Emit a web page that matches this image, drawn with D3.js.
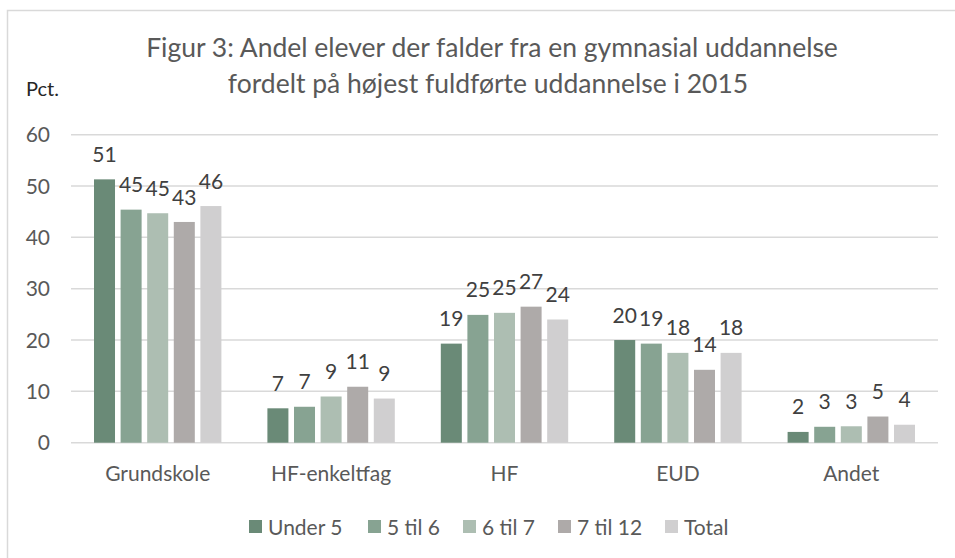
<!DOCTYPE html>
<html>
<head>
<meta charset="utf-8">
<script src="https://cdn.jsdelivr.net/npm/d3@7"></script>
<style>
  body { margin: 0; background: #fff; }
  svg { font-family: Lato, "Open Sans", sans-serif; }
  .tick-text { fill: #595959; font-size: 21px; }
  .value-label { fill: #404040; font-size: 21px; }
  .legend-text { fill: #595959; font-size: 21px; }
</style>
</head>
<body>
<div id="chart"></div>
<script>
// --- data ---
const categories = ["Grundskole", "HF-enkeltfag", "HF", "EUD", "Andet"];
const seriesNames = ["Under 5", "5 til 6", "6 til 7", "7 til 12", "Total"];
const under5 = [51.3, 6.7, 19.3, 20.0, 2.1];
const til6 = [45.4, 7.0, 24.9, 19.3, 3.1];
const til7 = [44.7, 9.0, 25.3, 17.5, 3.2];
const til12 = [43.0, 10.9, 26.5, 14.2, 5.1];
const total = [46.1, 8.6, 24.0, 17.5, 3.5];
const labels = [
    ["51", "7", "19", "20", "2"],
    ["45", "7", "25", "19", "3"],
    ["45", "9", "25", "18", "3"],
    ["43", "11", "27", "14", "5"],
    ["46", "9", "24", "18", "4"]
];
const yTicks = [0, 10, 20, 30, 40, 50, 60];
const colors = ["#6a8a77", "#87a392", "#adbeb2", "#aeaaa9", "#d0cfd0"];

const seriesValues = [under5, til6, til7, til12, total];

const width = 955;
const height = 558;
const plot = { left: 71, right: 938, top: 134.7, bottom: 442.7 };

const svg = d3.select("#chart")
    .append("svg")
    .attr("width", width)
    .attr("height", height);

// khung ngoài
svg.append("rect")
    .attr("x", 7.5)
    .attr("y", 10.5)
    .attr("width", 960)
    .attr("height", 560)
    .attr("fill", "#fff")
    .attr("stroke", "#d9d9d9")
    .attr("stroke-width", 1.5);

// --- scales ---
const x0 = d3.scaleBand()
    .domain(categories)
    .range([plot.left, plot.right])
    .padding(0);

const x1 = d3.scaleBand()
    .domain(seriesNames)
    .range([-63.7, 63.7])
    .paddingInner(0.21)
    .paddingOuter(0);

const y = d3.scaleLinear()
    .domain([0, 60])
    .range([plot.bottom, plot.top]);

// --- gridlines ---
svg.append("g")
    .selectAll("line")
    .data(yTicks)
    .enter().append("line")
    .attr("x1", plot.left)
    .attr("x2", plot.right)
    .attr("y1", d => y(d))
    .attr("y2", d => y(d))
    .attr("stroke", "#d9d9d9")
    .attr("stroke-width", 1.5);

// y tick labels
svg.append("g")
    .selectAll("text")
    .data(yTicks)
    .enter().append("text")
    .attr("class", "tick-text")
    .attr("x", 50)
    .attr("y", d => y(d))
    .attr("dy", "0.36em")
    .attr("text-anchor", "end")
    .text(d => d);

// --- bars ---
const rows = [];
seriesValues.forEach((vals, s) => {
    vals.forEach((v, c) => {
        rows.push({ cat: categories[c], series: seriesNames[s], value: v, label: labels[s][c], color: colors[s] });
    });
});

const barG = svg.append("g");
barG.selectAll("rect")
    .data(rows)
    .enter().append("rect")
    .attr("x", d => x0(d.cat) + x0.bandwidth() / 2 + x1(d.series))
    .attr("y", d => y(d.value))
    .attr("width", x1.bandwidth())
    .attr("height", d => y(0) - y(d.value))
    .attr("fill", d => d.color);

barG.selectAll("text")
    .data(rows)
    .enter().append("text")
    .attr("class", "value-label")
    .attr("x", d => x0(d.cat) + x0.bandwidth() / 2 + x1(d.series) + x1.bandwidth() / 2)
    .attr("y", d => y(d.value) - 25)
    .attr("dy", "0.36em")
    .attr("text-anchor", "middle")
    .text(d => d.label);

// category labels
svg.append("g")
    .selectAll("text")
    .data(categories)
    .enter().append("text")
    .attr("class", "tick-text")
    .attr("x", d => x0(d) + x0.bandwidth() / 2)
    .attr("y", 473)
    .attr("dy", "0.36em")
    .attr("text-anchor", "middle")
    .text(d => d);

// --- title ---
const title = svg.append("text")
    .attr("x", 492)
    .attr("text-anchor", "middle")
    .attr("fill", "#595959")
    .style("font-size", "26.5px");
title.append("tspan").attr("x", 492).attr("y", 57)
    .text("Figur 3: Andel elever der falder fra en gymnasial uddannelse");
title.append("tspan").attr("x", 488).attr("y", 93)
    .text("fordelt på højest fuldførte uddannelse i 2015");

svg.append("text")
    .attr("x", 26)
    .attr("y", 96)
    .attr("fill", "#262626")
    .style("font-size", "20px")
    .text("Pct.");

// --- legend ---
const legendX = [249, 368, 463, 558, 665];
const legend = svg.append("g");
seriesNames.forEach((name, i) => {
    legend.append("rect")
        .attr("x", legendX[i])
        .attr("y", 520)
        .attr("width", 13)
        .attr("height", 13)
        .attr("fill", colors[i]);
    legend.append("text")
        .attr("class", "legend-text")
        .attr("x", legendX[i] + 19)
        .attr("y", 527)
        .attr("dy", "0.36em")
        .text(name);
});
</script>
</body>
</html>
